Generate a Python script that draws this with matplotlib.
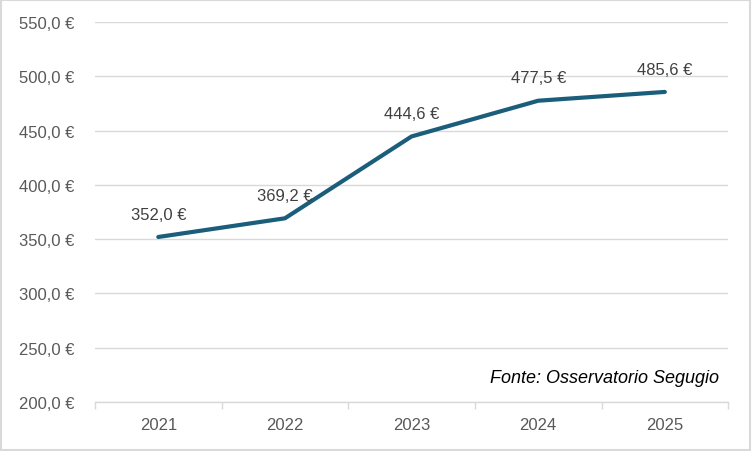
import matplotlib.pyplot as plt
from matplotlib.patches import Rectangle

# Data
years = ['2021', '2022', '2023', '2024', '2025']
values = [352.0, 369.2, 444.6, 477.5, 485.6]
y_ticks = [200, 250, 300, 350, 400, 450, 500, 550]


def eur(v):
    return f'{v:.1f}'.replace('.', ',') + ' €'


plt.rcParams['font.family'] = ['Liberation Sans', 'DejaVu Sans']

fig = plt.figure(figsize=(7.52, 4.52), dpi=100)
ax = fig.add_axes([0.1263, 0.1084, 0.842, 0.8407])

x = range(len(years))
ax.plot(x, values, color='#1b5e7b', linewidth=3, solid_capstyle='round',
        solid_joinstyle='round', zorder=3)

for xi, v in zip(x, values):
    ax.annotate(eur(v), (xi, v), xytext=(0, 11), textcoords='offset points',
                ha='center', va='bottom', fontsize=12, color='#404040')

ax.set_xlim(-0.5, len(years) - 0.5)
ax.set_ylim(200, 550)
ax.set_yticks(y_ticks)
ax.set_yticklabels([eur(v) for v in y_ticks])
ax.set_xticks(list(x))
ax.set_xticklabels(years)
ax.set_xticks([i - 0.5 for i in range(len(years) + 1)], minor=True)

ax.grid(axis='y', color='#d9d9d9', linewidth=1)
ax.set_axisbelow(True)
for s in ['top', 'right', 'left']:
    ax.spines[s].set_visible(False)
ax.spines['bottom'].set_color('#d9d9d9')
ax.spines['bottom'].set_linewidth(1)

ax.tick_params(axis='y', length=0, pad=15, labelsize=12, labelcolor='#595959')
ax.tick_params(axis='x', which='major', length=0, pad=11, labelsize=12,
               labelcolor='#595959')
ax.tick_params(axis='x', which='minor', length=5, color='#d9d9d9', width=1)

ax.text(0.985, 0.065, 'Fonte: Osservatorio Segugio', transform=ax.transAxes,
        ha='right', va='center', fontsize=13, style='italic', color='#000000')

fig.patches.append(Rectangle((0.001, 0.002), 0.997, 0.996, transform=fig.transFigure,
                             fill=False, edgecolor='#d9d9d9', linewidth=1.5))

plt.savefig('out.png', dpi=100)
plt.close()
